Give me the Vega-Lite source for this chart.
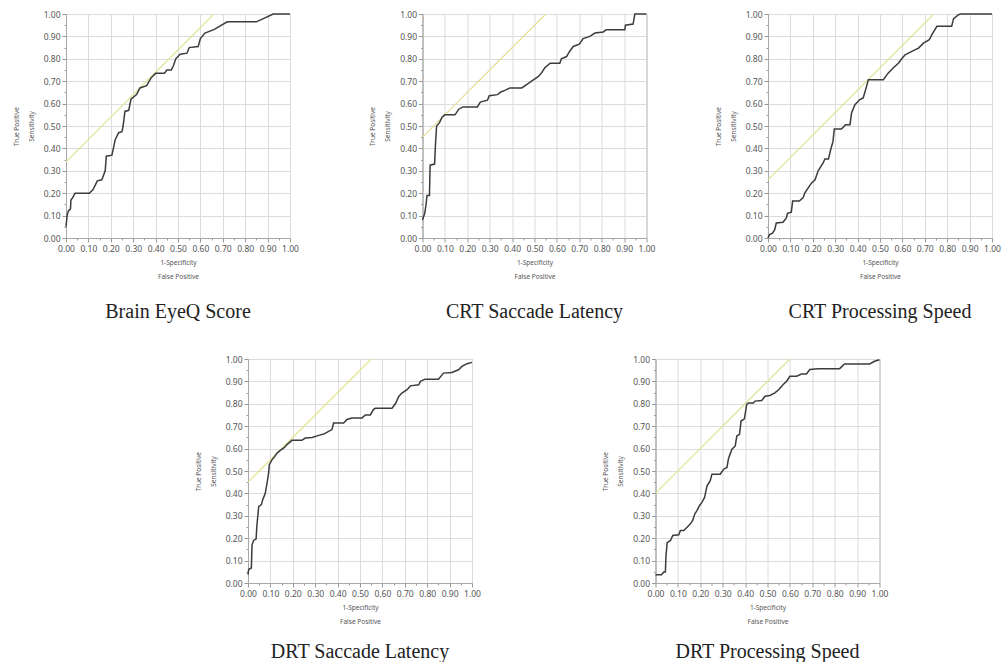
{
  "$schema": "https://vega.github.io/schema/vega-lite/v6.json",
  "background": "white",
  "padding": {"left": 12, "top": 9, "right": 0, "bottom": 0},
  "spacing": 32,
  "vconcat": [
    {
      "spacing": 69.5,
      "hconcat": [
        {
          "width": 224, "height": 224,
          "title": {"text": "Brain EyeQ Score"},
          "encoding": {
            "x": {"field": "fpr", "type": "quantitative", "scale": {"domain": [0, 1], "nice": false},
                  "axis": {"values": [0,0.05,0.1,0.15,0.2,0.25,0.3,0.35,0.4,0.45,0.5,0.55,0.6,0.65,0.7,0.75,0.8,0.85,0.9,0.95,1], "format": ".2f", "labelExpr": "round(datum.value*100)%10==0 ? datum.label : ''", "title": ["1-Specificity", "False Positive"], "gridOpacity": {"condition": {"test": "round(datum.value*100)%10!=0", "value": 0}, "value": 1}, "tickSize": {"condition": {"test": "round(datum.value*100)%10!=0", "value": 2}, "value": 4}}},
            "y": {"field": "tpr", "type": "quantitative", "scale": {"domain": [0, 1], "nice": false},
                  "axis": {"values": [0,0.05,0.1,0.15,0.2,0.25,0.3,0.35,0.4,0.45,0.5,0.55,0.6,0.65,0.7,0.75,0.8,0.85,0.9,0.95,1], "format": ".2f", "labelExpr": "round(datum.value*100)%10==0 ? datum.label : ''", "title": ["True Positive", "Sensitivity"], "gridOpacity": {"condition": {"test": "round(datum.value*100)%10!=0", "value": 0}, "value": 1}, "tickSize": {"condition": {"test": "round(datum.value*100)%10!=0", "value": 2}, "value": 4}}}
          },
          "layer": [
            {"data": {"name": "brain_ref"}, "mark": {"type": "line", "color": "#e2e294", "strokeWidth": 1.2, "clip": true}},
            {"data": {"name": "brain"}, "mark": {"type": "line", "color": "#3c3c3c", "strokeWidth": 1.5}, "encoding": {"order": {"value": null}}}
          ]
        },
        {
          "spacing": 58.5,
          "hconcat": [
            {
              "width": 224, "height": 224,
              "title": {"text": "CRT Saccade Latency"},
              "encoding": {
                "x": {"field": "fpr", "type": "quantitative", "scale": {"domain": [0, 1], "nice": false},
                      "axis": {"values": [0,0.05,0.1,0.15,0.2,0.25,0.3,0.35,0.4,0.45,0.5,0.55,0.6,0.65,0.7,0.75,0.8,0.85,0.9,0.95,1], "format": ".2f", "labelExpr": "round(datum.value*100)%10==0 ? datum.label : ''", "title": ["1-Specificity", "False Positive"], "gridOpacity": {"condition": {"test": "round(datum.value*100)%10!=0", "value": 0}, "value": 1}, "tickSize": {"condition": {"test": "round(datum.value*100)%10!=0", "value": 2}, "value": 4}}},
                "y": {"field": "tpr", "type": "quantitative", "scale": {"domain": [0, 1], "nice": false},
                      "axis": {"values": [0,0.05,0.1,0.15,0.2,0.25,0.3,0.35,0.4,0.45,0.5,0.55,0.6,0.65,0.7,0.75,0.8,0.85,0.9,0.95,1], "format": ".2f", "labelExpr": "round(datum.value*100)%10==0 ? datum.label : ''", "title": ["True Positive", "Sensitivity"], "gridOpacity": {"condition": {"test": "round(datum.value*100)%10!=0", "value": 0}, "value": 1}, "tickSize": {"condition": {"test": "round(datum.value*100)%10!=0", "value": 2}, "value": 4}}}
              },
              "layer": [
                {"data": {"name": "crtsl_ref"}, "mark": {"type": "line", "color": "#e2e294", "strokeWidth": 1.2, "clip": true}},
                {"data": {"name": "crtsl"}, "mark": {"type": "line", "color": "#3c3c3c", "strokeWidth": 1.5}, "encoding": {"order": {"value": null}}}
              ]
            },
            {
              "width": 224, "height": 224,
              "title": {"text": "CRT Processing Speed"},
              "encoding": {
                "x": {"field": "fpr", "type": "quantitative", "scale": {"domain": [0, 1], "nice": false},
                      "axis": {"values": [0,0.05,0.1,0.15,0.2,0.25,0.3,0.35,0.4,0.45,0.5,0.55,0.6,0.65,0.7,0.75,0.8,0.85,0.9,0.95,1], "format": ".2f", "labelExpr": "round(datum.value*100)%10==0 ? datum.label : ''", "title": ["1-Specificity", "False Positive"], "gridOpacity": {"condition": {"test": "round(datum.value*100)%10!=0", "value": 0}, "value": 1}, "tickSize": {"condition": {"test": "round(datum.value*100)%10!=0", "value": 2}, "value": 4}}},
                "y": {"field": "tpr", "type": "quantitative", "scale": {"domain": [0, 1], "nice": false},
                      "axis": {"values": [0,0.05,0.1,0.15,0.2,0.25,0.3,0.35,0.4,0.45,0.5,0.55,0.6,0.65,0.7,0.75,0.8,0.85,0.9,0.95,1], "format": ".2f", "labelExpr": "round(datum.value*100)%10==0 ? datum.label : ''", "title": ["True Positive", "Sensitivity"], "gridOpacity": {"condition": {"test": "round(datum.value*100)%10!=0", "value": 0}, "value": 1}, "tickSize": {"condition": {"test": "round(datum.value*100)%10!=0", "value": 2}, "value": 4}}}
              },
              "layer": [
                {"data": {"name": "crtps_ref"}, "mark": {"type": "line", "color": "#e2e294", "strokeWidth": 1.2, "clip": true}},
                {"data": {"name": "crtps"}, "mark": {"type": "line", "color": "#3c3c3c", "strokeWidth": 1.5}, "encoding": {"order": {"value": null}}}
              ]
            }
          ]
        }
      ]
    },
    {
      "spacing": 127,
      "hconcat": [
        {"width": 1, "height": 1, "data": {"values": []}, "mark": "point", "view": {"stroke": null}},
        {
          "spacing": 120.5,
          "hconcat": [
            {
              "width": 224, "height": 224,
              "title": {"text": "DRT Saccade Latency", "offset": 17},
              "encoding": {
                "x": {"field": "fpr", "type": "quantitative", "scale": {"domain": [0, 1], "nice": false},
                      "axis": {"values": [0,0.05,0.1,0.15,0.2,0.25,0.3,0.35,0.4,0.45,0.5,0.55,0.6,0.65,0.7,0.75,0.8,0.85,0.9,0.95,1], "format": ".2f", "labelExpr": "round(datum.value*100)%10==0 ? datum.label : ''", "title": ["1-Specificity", "False Positive"], "gridOpacity": {"condition": {"test": "round(datum.value*100)%10!=0", "value": 0}, "value": 1}, "tickSize": {"condition": {"test": "round(datum.value*100)%10!=0", "value": 2}, "value": 4}}},
                "y": {"field": "tpr", "type": "quantitative", "scale": {"domain": [0, 1], "nice": false},
                      "axis": {"values": [0,0.05,0.1,0.15,0.2,0.25,0.3,0.35,0.4,0.45,0.5,0.55,0.6,0.65,0.7,0.75,0.8,0.85,0.9,0.95,1], "format": ".2f", "labelExpr": "round(datum.value*100)%10==0 ? datum.label : ''", "title": ["True Positive", "Sensitivity"], "gridOpacity": {"condition": {"test": "round(datum.value*100)%10!=0", "value": 0}, "value": 1}, "tickSize": {"condition": {"test": "round(datum.value*100)%10!=0", "value": 2}, "value": 4}}}
              },
              "layer": [
                {"data": {"name": "drtsl_ref"}, "mark": {"type": "line", "color": "#e2e294", "strokeWidth": 1.2, "clip": true}},
                {"data": {"name": "drtsl"}, "mark": {"type": "line", "color": "#3c3c3c", "strokeWidth": 1.5}, "encoding": {"order": {"value": null}}}
              ]
            },
            {
              "width": 224, "height": 224,
              "title": {"text": "DRT Processing Speed", "offset": 17},
              "encoding": {
                "x": {"field": "fpr", "type": "quantitative", "scale": {"domain": [0, 1], "nice": false},
                      "axis": {"values": [0,0.05,0.1,0.15,0.2,0.25,0.3,0.35,0.4,0.45,0.5,0.55,0.6,0.65,0.7,0.75,0.8,0.85,0.9,0.95,1], "format": ".2f", "labelExpr": "round(datum.value*100)%10==0 ? datum.label : ''", "title": ["1-Specificity", "False Positive"], "gridOpacity": {"condition": {"test": "round(datum.value*100)%10!=0", "value": 0}, "value": 1}, "tickSize": {"condition": {"test": "round(datum.value*100)%10!=0", "value": 2}, "value": 4}}},
                "y": {"field": "tpr", "type": "quantitative", "scale": {"domain": [0, 1], "nice": false},
                      "axis": {"values": [0,0.05,0.1,0.15,0.2,0.25,0.3,0.35,0.4,0.45,0.5,0.55,0.6,0.65,0.7,0.75,0.8,0.85,0.9,0.95,1], "format": ".2f", "labelExpr": "round(datum.value*100)%10==0 ? datum.label : ''", "title": ["True Positive", "Sensitivity"], "gridOpacity": {"condition": {"test": "round(datum.value*100)%10!=0", "value": 0}, "value": 1}, "tickSize": {"condition": {"test": "round(datum.value*100)%10!=0", "value": 2}, "value": 4}}}
              },
              "layer": [
                {"data": {"name": "drtps_ref"}, "mark": {"type": "line", "color": "#e2e294", "strokeWidth": 1.2, "clip": true}},
                {"data": {"name": "drtps"}, "mark": {"type": "line", "color": "#3c3c3c", "strokeWidth": 1.5}, "encoding": {"order": {"value": null}}}
              ]
            }
          ]
        }
      ]
    }
  ],
  "datasets": {
    "brain_ref": [{"fpr": 0, "tpr": 0.34}, {"fpr": 0.66, "tpr": 1.0}],
    "crtsl_ref": [{"fpr": 0, "tpr": 0.45}, {"fpr": 0.55, "tpr": 1.0}],
    "crtps_ref": [{"fpr": 0, "tpr": 0.26}, {"fpr": 0.74, "tpr": 1.0}],
    "drtsl_ref": [{"fpr": 0, "tpr": 0.45}, {"fpr": 0.55, "tpr": 1.0}],
    "drtps_ref": [{"fpr": 0, "tpr": 0.40}, {"fpr": 0.60, "tpr": 1.0}],
    "brain": [
      {"fpr": 0, "tpr": 0.05}, {"fpr": 0.005, "tpr": 0.10}, {"fpr": 0.01, "tpr": 0.12}, {"fpr": 0.02, "tpr": 0.13}, {"fpr": 0.022, "tpr": 0.17}, {"fpr": 0.03, "tpr": 0.18}, {"fpr": 0.04, "tpr": 0.20}, {"fpr": 0.104, "tpr": 0.20}, {"fpr": 0.12, "tpr": 0.215}, {"fpr": 0.14, "tpr": 0.255}, {"fpr": 0.16, "tpr": 0.26}, {"fpr": 0.175, "tpr": 0.30}, {"fpr": 0.18, "tpr": 0.365}, {"fpr": 0.205, "tpr": 0.37}, {"fpr": 0.22, "tpr": 0.44}, {"fpr": 0.235, "tpr": 0.47}, {"fpr": 0.25, "tpr": 0.475}, {"fpr": 0.255, "tpr": 0.50}, {"fpr": 0.263, "tpr": 0.565}, {"fpr": 0.28, "tpr": 0.57}, {"fpr": 0.29, "tpr": 0.62}, {"fpr": 0.315, "tpr": 0.64}, {"fpr": 0.33, "tpr": 0.67}, {"fpr": 0.36, "tpr": 0.68}, {"fpr": 0.38, "tpr": 0.715}, {"fpr": 0.40, "tpr": 0.735}, {"fpr": 0.44, "tpr": 0.735}, {"fpr": 0.45, "tpr": 0.75}, {"fpr": 0.47, "tpr": 0.75}, {"fpr": 0.48, "tpr": 0.77}, {"fpr": 0.49, "tpr": 0.80}, {"fpr": 0.51, "tpr": 0.82}, {"fpr": 0.54, "tpr": 0.825}, {"fpr": 0.55, "tpr": 0.85}, {"fpr": 0.59, "tpr": 0.855}, {"fpr": 0.60, "tpr": 0.89}, {"fpr": 0.62, "tpr": 0.915}, {"fpr": 0.66, "tpr": 0.93}, {"fpr": 0.72, "tpr": 0.965}, {"fpr": 0.85, "tpr": 0.965}, {"fpr": 0.925, "tpr": 1.0}, {"fpr": 1.0, "tpr": 1.0}
    ],
    "crtsl": [
      {"fpr": 0, "tpr": 0.08}, {"fpr": 0.01, "tpr": 0.11}, {"fpr": 0.016, "tpr": 0.15}, {"fpr": 0.02, "tpr": 0.19}, {"fpr": 0.031, "tpr": 0.19}, {"fpr": 0.034, "tpr": 0.325}, {"fpr": 0.054, "tpr": 0.33}, {"fpr": 0.058, "tpr": 0.42}, {"fpr": 0.063, "tpr": 0.50}, {"fpr": 0.076, "tpr": 0.515}, {"fpr": 0.088, "tpr": 0.54}, {"fpr": 0.10, "tpr": 0.55}, {"fpr": 0.145, "tpr": 0.55}, {"fpr": 0.162, "tpr": 0.575}, {"fpr": 0.18, "tpr": 0.585}, {"fpr": 0.245, "tpr": 0.585}, {"fpr": 0.258, "tpr": 0.607}, {"fpr": 0.29, "tpr": 0.615}, {"fpr": 0.298, "tpr": 0.635}, {"fpr": 0.335, "tpr": 0.64}, {"fpr": 0.35, "tpr": 0.652}, {"fpr": 0.37, "tpr": 0.66}, {"fpr": 0.39, "tpr": 0.67}, {"fpr": 0.443, "tpr": 0.67}, {"fpr": 0.465, "tpr": 0.685}, {"fpr": 0.487, "tpr": 0.70}, {"fpr": 0.516, "tpr": 0.72}, {"fpr": 0.53, "tpr": 0.735}, {"fpr": 0.546, "tpr": 0.76}, {"fpr": 0.57, "tpr": 0.78}, {"fpr": 0.613, "tpr": 0.78}, {"fpr": 0.62, "tpr": 0.80}, {"fpr": 0.643, "tpr": 0.81}, {"fpr": 0.658, "tpr": 0.835}, {"fpr": 0.673, "tpr": 0.855}, {"fpr": 0.70, "tpr": 0.865}, {"fpr": 0.717, "tpr": 0.89}, {"fpr": 0.747, "tpr": 0.90}, {"fpr": 0.77, "tpr": 0.915}, {"fpr": 0.807, "tpr": 0.92}, {"fpr": 0.82, "tpr": 0.93}, {"fpr": 0.903, "tpr": 0.93}, {"fpr": 0.906, "tpr": 0.95}, {"fpr": 0.94, "tpr": 0.955}, {"fpr": 0.948, "tpr": 1.0}, {"fpr": 1.0, "tpr": 1.0}
    ],
    "crtps": [
      {"fpr": 0, "tpr": 0}, {"fpr": 0.007, "tpr": 0.015}, {"fpr": 0.02, "tpr": 0.022}, {"fpr": 0.03, "tpr": 0.037}, {"fpr": 0.037, "tpr": 0.067}, {"fpr": 0.067, "tpr": 0.07}, {"fpr": 0.082, "tpr": 0.09}, {"fpr": 0.087, "tpr": 0.11}, {"fpr": 0.104, "tpr": 0.115}, {"fpr": 0.11, "tpr": 0.165}, {"fpr": 0.14, "tpr": 0.165}, {"fpr": 0.157, "tpr": 0.18}, {"fpr": 0.164, "tpr": 0.20}, {"fpr": 0.18, "tpr": 0.225}, {"fpr": 0.194, "tpr": 0.245}, {"fpr": 0.21, "tpr": 0.26}, {"fpr": 0.224, "tpr": 0.30}, {"fpr": 0.246, "tpr": 0.335}, {"fpr": 0.254, "tpr": 0.353}, {"fpr": 0.27, "tpr": 0.353}, {"fpr": 0.28, "tpr": 0.395}, {"fpr": 0.29, "tpr": 0.43}, {"fpr": 0.296, "tpr": 0.487}, {"fpr": 0.328, "tpr": 0.487}, {"fpr": 0.346, "tpr": 0.506}, {"fpr": 0.366, "tpr": 0.506}, {"fpr": 0.373, "tpr": 0.558}, {"fpr": 0.388, "tpr": 0.595}, {"fpr": 0.41, "tpr": 0.618}, {"fpr": 0.425, "tpr": 0.625}, {"fpr": 0.44, "tpr": 0.677}, {"fpr": 0.448, "tpr": 0.707}, {"fpr": 0.515, "tpr": 0.707}, {"fpr": 0.537, "tpr": 0.737}, {"fpr": 0.56, "tpr": 0.76}, {"fpr": 0.582, "tpr": 0.78}, {"fpr": 0.597, "tpr": 0.80}, {"fpr": 0.612, "tpr": 0.818}, {"fpr": 0.642, "tpr": 0.833}, {"fpr": 0.672, "tpr": 0.848}, {"fpr": 0.694, "tpr": 0.87}, {"fpr": 0.72, "tpr": 0.885}, {"fpr": 0.731, "tpr": 0.907}, {"fpr": 0.754, "tpr": 0.945}, {"fpr": 0.82, "tpr": 0.945}, {"fpr": 0.828, "tpr": 0.978}, {"fpr": 0.85, "tpr": 0.997}, {"fpr": 0.86, "tpr": 1.0}, {"fpr": 1.0, "tpr": 1.0}
    ],
    "drtsl": [
      {"fpr": 0, "tpr": 0.037}, {"fpr": 0.003, "tpr": 0.06}, {"fpr": 0.015, "tpr": 0.067}, {"fpr": 0.018, "tpr": 0.17}, {"fpr": 0.025, "tpr": 0.19}, {"fpr": 0.036, "tpr": 0.196}, {"fpr": 0.04, "tpr": 0.26}, {"fpr": 0.048, "tpr": 0.342}, {"fpr": 0.06, "tpr": 0.35}, {"fpr": 0.065, "tpr": 0.37}, {"fpr": 0.077, "tpr": 0.40}, {"fpr": 0.085, "tpr": 0.446}, {"fpr": 0.092, "tpr": 0.49}, {"fpr": 0.095, "tpr": 0.528}, {"fpr": 0.107, "tpr": 0.55}, {"fpr": 0.119, "tpr": 0.565}, {"fpr": 0.13, "tpr": 0.58}, {"fpr": 0.144, "tpr": 0.592}, {"fpr": 0.16, "tpr": 0.603}, {"fpr": 0.174, "tpr": 0.618}, {"fpr": 0.196, "tpr": 0.637}, {"fpr": 0.24, "tpr": 0.637}, {"fpr": 0.256, "tpr": 0.647}, {"fpr": 0.286, "tpr": 0.65}, {"fpr": 0.316, "tpr": 0.659}, {"fpr": 0.338, "tpr": 0.665}, {"fpr": 0.36, "tpr": 0.677}, {"fpr": 0.375, "tpr": 0.685}, {"fpr": 0.382, "tpr": 0.714}, {"fpr": 0.427, "tpr": 0.714}, {"fpr": 0.442, "tpr": 0.73}, {"fpr": 0.464, "tpr": 0.737}, {"fpr": 0.509, "tpr": 0.737}, {"fpr": 0.524, "tpr": 0.75}, {"fpr": 0.546, "tpr": 0.75}, {"fpr": 0.56, "tpr": 0.774}, {"fpr": 0.568, "tpr": 0.78}, {"fpr": 0.643, "tpr": 0.78}, {"fpr": 0.658, "tpr": 0.80}, {"fpr": 0.673, "tpr": 0.833}, {"fpr": 0.687, "tpr": 0.848}, {"fpr": 0.71, "tpr": 0.863}, {"fpr": 0.725, "tpr": 0.88}, {"fpr": 0.762, "tpr": 0.885}, {"fpr": 0.77, "tpr": 0.90}, {"fpr": 0.79, "tpr": 0.91}, {"fpr": 0.85, "tpr": 0.91}, {"fpr": 0.873, "tpr": 0.937}, {"fpr": 0.91, "tpr": 0.94}, {"fpr": 0.94, "tpr": 0.952}, {"fpr": 0.955, "tpr": 0.967}, {"fpr": 0.978, "tpr": 0.979}, {"fpr": 1.0, "tpr": 0.985}
    ],
    "drtps": [
      {"fpr": 0, "tpr": 0.037}, {"fpr": 0.027, "tpr": 0.037}, {"fpr": 0.037, "tpr": 0.049}, {"fpr": 0.044, "tpr": 0.049}, {"fpr": 0.047, "tpr": 0.123}, {"fpr": 0.052, "tpr": 0.18}, {"fpr": 0.067, "tpr": 0.19}, {"fpr": 0.077, "tpr": 0.212}, {"fpr": 0.104, "tpr": 0.215}, {"fpr": 0.111, "tpr": 0.234}, {"fpr": 0.126, "tpr": 0.234}, {"fpr": 0.141, "tpr": 0.249}, {"fpr": 0.156, "tpr": 0.264}, {"fpr": 0.166, "tpr": 0.279}, {"fpr": 0.175, "tpr": 0.308}, {"fpr": 0.185, "tpr": 0.323}, {"fpr": 0.196, "tpr": 0.345}, {"fpr": 0.207, "tpr": 0.36}, {"fpr": 0.219, "tpr": 0.382}, {"fpr": 0.23, "tpr": 0.434}, {"fpr": 0.244, "tpr": 0.456}, {"fpr": 0.252, "tpr": 0.486}, {"fpr": 0.289, "tpr": 0.486}, {"fpr": 0.304, "tpr": 0.508}, {"fpr": 0.319, "tpr": 0.516}, {"fpr": 0.326, "tpr": 0.556}, {"fpr": 0.341, "tpr": 0.597}, {"fpr": 0.356, "tpr": 0.612}, {"fpr": 0.363, "tpr": 0.656}, {"fpr": 0.375, "tpr": 0.664}, {"fpr": 0.382, "tpr": 0.723}, {"fpr": 0.397, "tpr": 0.733}, {"fpr": 0.407, "tpr": 0.797}, {"fpr": 0.415, "tpr": 0.804}, {"fpr": 0.437, "tpr": 0.804}, {"fpr": 0.444, "tpr": 0.812}, {"fpr": 0.474, "tpr": 0.815}, {"fpr": 0.489, "tpr": 0.834}, {"fpr": 0.511, "tpr": 0.837}, {"fpr": 0.533, "tpr": 0.849}, {"fpr": 0.551, "tpr": 0.864}, {"fpr": 0.57, "tpr": 0.886}, {"fpr": 0.585, "tpr": 0.90}, {"fpr": 0.6, "tpr": 0.923}, {"fpr": 0.63, "tpr": 0.923}, {"fpr": 0.652, "tpr": 0.933}, {"fpr": 0.674, "tpr": 0.933}, {"fpr": 0.689, "tpr": 0.953}, {"fpr": 0.726, "tpr": 0.957}, {"fpr": 0.822, "tpr": 0.957}, {"fpr": 0.844, "tpr": 0.978}, {"fpr": 0.956, "tpr": 0.978}, {"fpr": 0.978, "tpr": 0.99}, {"fpr": 1.0, "tpr": 0.997}
    ]
  },
  "config": {
    "font": "Noto Sans",
    "view": {"stroke": "#a8a8a8", "strokeWidth": 1},
    "axis": {"labelFont": "Noto Sans", "labelFontSize": 8.5, "labelColor": "#555555", "titleFont": "Noto Sans", "titleFontSize": 6.5, "titleFontWeight": "normal", "titleColor": "#555555", "gridColor": "#dcdcdc", "domainColor": "#a8a8a8", "tickColor": "#999999", "labelOverlap": false, "labelFlush": false, "labelPadding": 2},
    "axisX": {"titleLineHeight": 13.5, "titlePadding": 7},
    "axisY": {"titleLineHeight": 15, "titlePadding": 9},
    "title": {"font": "Liberation Serif", "fontSize": 20, "fontWeight": "normal", "color": "#222222", "orient": "bottom", "anchor": "middle", "offset": 22}
  }
}
